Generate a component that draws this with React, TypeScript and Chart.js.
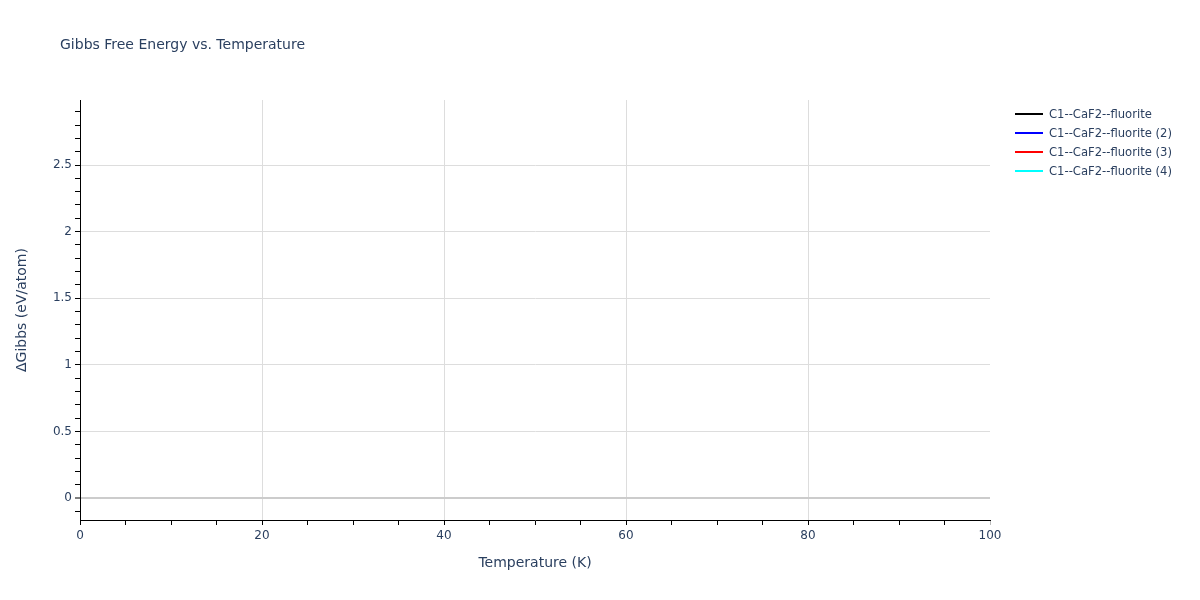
import React, { useEffect, useRef } from "react";
import { Chart, registerables } from "chart.js";

Chart.register(...registerables);

// ---- data ----
const chartTitle = "Gibbs Free Energy vs. Temperature";
const xAxisTitle = "Temperature (K)";
const yAxisTitle = "ΔGibbs (eV/atom)";
const seriesLabels = [
  "C1--CaF2--fluorite",
  "C1--CaF2--fluorite (2)",
  "C1--CaF2--fluorite (3)",
  "C1--CaF2--fluorite (4)",
];
const seriesColors = ["#000000", "#0000ff", "#ff0000", "#00ffff"];
// No visible data points in the reference for any series
const temperatures: number[] = [];
const series1: number[] = [];
const series2: number[] = [];
const series3: number[] = [];
const series4: number[] = [];
const seriesValues = [series1, series2, series3, series4];

const xMin = 0;
const xMax = 100;
const yMin = -0.165;
const yMax = 2.988;
const xMajorTicks = [0, 20, 40, 60, 80, 100];
const yMajorTicks = [0, 0.5, 1, 1.5, 2, 2.5];
const xMinorStep = 5;
const yMinorStep = 0.1;

const TEXT = "#2a3f5f";
const GRID = "#dddddd";
const ZERO = "#cccccc";
const FONT = '"DejaVu Sans", verdana, sans-serif';

const near = (a: number, b: number) => Math.abs(a - b) < 1e-9;
const isXMajor = (v: number) => xMajorTicks.some((t) => near(t, v));
const isYMajor = (v: number) => yMajorTicks.some((t) => near(t, v));

const overlayPlugin = {
  id: "overlay",
  afterDraw(chart: any) {
    const ctx = chart.ctx;
    ctx.save();
    ctx.fillStyle = TEXT;
    ctx.font = `14px ${FONT}`;
    ctx.textBaseline = "middle";
    ctx.textAlign = "left";
    ctx.fillText(chartTitle, 60, 45.5);
    chart.data.datasets.forEach((ds: any, i: number) => {
      const y = 114 + i * 19;
      ctx.strokeStyle = ds.borderColor;
      ctx.lineWidth = 2;
      ctx.beginPath();
      ctx.moveTo(1015, y);
      ctx.lineTo(1043, y);
      ctx.stroke();
      ctx.fillStyle = TEXT;
      ctx.font = `11.6px ${FONT}`;
      ctx.fillText(ds.label, 1049, y + 0.5);
    });
    ctx.restore();
  },
};

export default function App() {
  const ref = useRef<HTMLCanvasElement | null>(null);
  useEffect(() => {
    document.body.style.margin = "0";
    if (!ref.current) return;
    Chart.defaults.font.family = FONT;
    const xTickValues: number[] = [];
    for (let i = 0; i <= Math.round((xMax - xMin) / xMinorStep); i++) xTickValues.push(xMin + i * xMinorStep);
    const yTickValues: number[] = [];
    for (let i = -1; i <= 29; i++) yTickValues.push(Math.round(i * yMinorStep * 10) / 10);

    const chart = new Chart(ref.current, {
      type: "line",
      data: {
        datasets: seriesValues.map((vals, s) => ({
          label: seriesLabels[s],
          data: vals.map((v, i) => ({ x: temperatures[i], y: v })),
          borderColor: seriesColors[s],
          backgroundColor: seriesColors[s],
          borderWidth: 2,
          pointRadius: 0,
          fill: false,
        })),
      },
      options: {
        animation: false,
        responsive: false,
        devicePixelRatio: 1,
        layout: { padding: { left: 0, right: 210, top: 100, bottom: 0 } },
        plugins: { legend: { display: false }, title: { display: false }, tooltip: { enabled: false } },
        scales: {
          x: {
            type: "linear",
            min: xMin,
            max: xMax,
            afterFit: (s: any) => {
              s.height = 80;
            },
            afterBuildTicks: (s: any) => {
              s.ticks = xTickValues.map((v) => ({ value: v }));
            },
            ticks: {
              autoSkip: false,
              maxRotation: 0,
              padding: 4,
              color: TEXT,
              font: { size: 12 },
              callback: (v: any) => (isXMajor(Number(v)) ? String(v) : ""),
            },
            grid: {
              color: (c: any) => {
                const v = c.tick?.value;
                return v !== undefined && isXMajor(v) && v > xMin && v < xMax ? GRID : "rgba(0,0,0,0)";
              },
              lineWidth: 1,
              drawTicks: true,
              tickLength: 5,
              tickWidth: 1,
              tickColor: (c: any) => (c.tick && near(c.tick.value, xMax) ? "#bbbbbb" : "#000000"),
            },
            border: { display: true, color: "#000000", width: 1 },
            title: {
              display: true,
              text: xAxisTitle,
              color: TEXT,
              font: { size: 14 },
              padding: { top: 0, bottom: 28 },
            },
          },
          y: {
            type: "linear",
            min: yMin,
            max: yMax,
            afterFit: (s: any) => {
              s.width = 80;
            },
            afterBuildTicks: (s: any) => {
              s.ticks = yTickValues.map((v) => ({ value: v }));
            },
            ticks: {
              autoSkip: false,
              padding: 3,
              color: TEXT,
              font: { size: 12 },
              callback: (v: any) => (isYMajor(Number(v)) ? String(v) : ""),
            },
            grid: {
              color: (c: any) => {
                const v = c.tick?.value;
                if (v === undefined) return "rgba(0,0,0,0)";
                if (near(v, 0)) return ZERO;
                return isYMajor(v) ? GRID : "rgba(0,0,0,0)";
              },
              lineWidth: (c: any) => (c.tick && near(c.tick.value, 0) ? 2 : 1),
              drawTicks: true,
              tickLength: 5,
              tickWidth: 1,
              tickColor: "#000000",
            },
            border: { display: true, color: "#000000", width: 1 },
            title: {
              display: true,
              text: yAxisTitle,
              color: TEXT,
              font: { size: 14 },
              padding: { top: 13.6, bottom: 0 },
            },
          },
        },
      },
      plugins: [overlayPlugin],
    });
    return () => chart.destroy();
  }, []);
  return <canvas ref={ref} width={1200} height={600} style={{ display: "block" }} />;
}
